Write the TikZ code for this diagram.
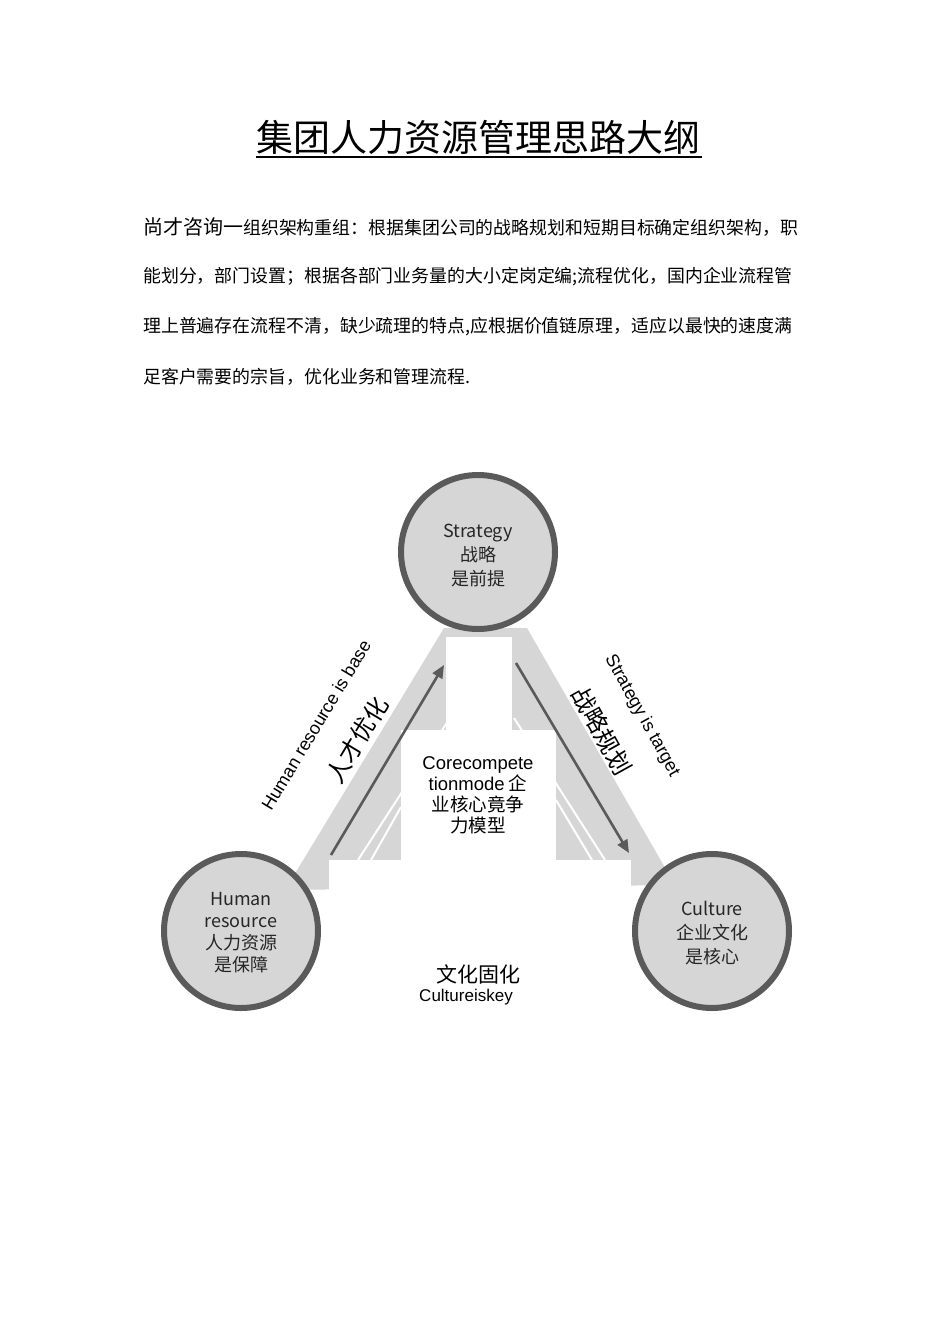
\documentclass[tikz,border=0pt]{standalone}
\usepackage{fontspec}
\setmainfont{Noto Sans CJK SC}
\newfontfamily\lat{Liberation Sans}
\usetikzlibrary{arrows.meta}
\definecolor{band}{HTML}{D6D6D6}
\definecolor{rim}{HTML}{5A5A5A}
\begin{document}
\begin{tikzpicture}[x=1pt,y=-1pt,
  circ/.style={circle,draw=rim,line width=6pt,fill=band,minimum size=154pt,inner sep=0pt},
  ctext/.style={align=center,font=\fontsize{18}{24}\selectfont,text=black!85},
  arr/.style={draw=rim,line width=2.6pt,-{Triangle[length=13pt,width=11pt]}},
  body/.style={anchor=west,inner sep=0pt,font=\fontsize{17.9}{20}\selectfont}]
\useasboundingbox (0,0) rectangle (950,1344);
% title
\node[inner sep=0pt,font=\fontsize{37}{40}\selectfont] (title) at (478,137) {集团人力资源管理思路大纲};
\draw[line width=1.5pt] (256,157) -- (702,157);
% body
\node[body] (l1) at (143,227) {{\fontsize{20}{22}\selectfont 尚才咨询一}组织架构重组：根据集团公司的战略规划和短期目标确定组织架构，职};
\node[body] (l2) at (143,277) {能划分，部门设置；根据各部门业务量的大小定岗定编;流程优化，国内企业流程管};
\node[body] (l3) at (143,327) {理上普遍存在流程不清，缺少疏理的特点,应根据价值链原理，适应以最快的速度满};
\node[body] (l4) at (143,377) {足客户需要的宗旨，优化业务和管理流程.};
% bands
\fill[band] (285,890) -- (444,628) -- (527,628) -- (675,885) -- cycle;
\draw[white,line width=2pt] (358,860) -- (448,721);
\draw[white,line width=2pt] (371,860) -- (401,807);
\draw[white,line width=2pt] (605,860) -- (514,718);
\draw[white,line width=2pt] (592,860) -- (556,800);
\fill[white] (446,637) rectangle (512,730);
\fill[white] (401,730) rectangle (556,861);
\fill[white] (329,860) rectangle (631,1010);
% arrows
\coordinate (a1s) at (331,855); \coordinate (a1e) at (444,665);
\coordinate (a2s) at (516,663); \coordinate (a2e) at (629,853);
\draw[arr] (a1s) -- (a1e);
\draw[arr] (a2s) -- (a2e);
% circles
\node[circ] (strat) at (478,552) {};
\node[circ] (hr) at (241,931) {};
\node[circ] (cul) at (712,931) {};
\node[ctext] (st) at (478,556) {Strategy\\战略\\是前提};
\node[ctext,font=\fontsize{18}{22}\selectfont] (ht) at (241,933) {Human\\resource\\人力资源\\是保障};
\node[ctext] (ct) at (712,933) {Culture\\企业文化\\是核心};
% rotated labels
\node[rotate=59,inner sep=0pt,font=\lat\fontsize{18}{20}\selectfont] (lb1) at (316,725) {Human resource is base};
\node[rotate=59,inner sep=0pt,font=\fontsize{24}{28}\selectfont] (lb2) at (357,740) {人才优化};
\node[rotate=-61,inner sep=0pt,font=\lat\fontsize{18}{20}\selectfont] (rb1) at (642,716) {Strategy is target};
\node[rotate=-61,inner sep=0pt,font=\fontsize{24}{28}\selectfont] (rb2) at (602,731) {战略规划};
% centre
\node[align=center,font=\fontsize{18.5}{21}\selectfont] (core) at (478,795) {{\lat Corecompete}\\{\lat tionmode} 企\\业核心竟争\\力模型};
\node[font=\fontsize{21}{24}\selectfont] (wh) at (478,974) {文化固化};
\node[font=\lat\fontsize{17}{20}\selectfont] (ck) at (466,997) {Cultureiskey};
\end{tikzpicture}
\end{document}
